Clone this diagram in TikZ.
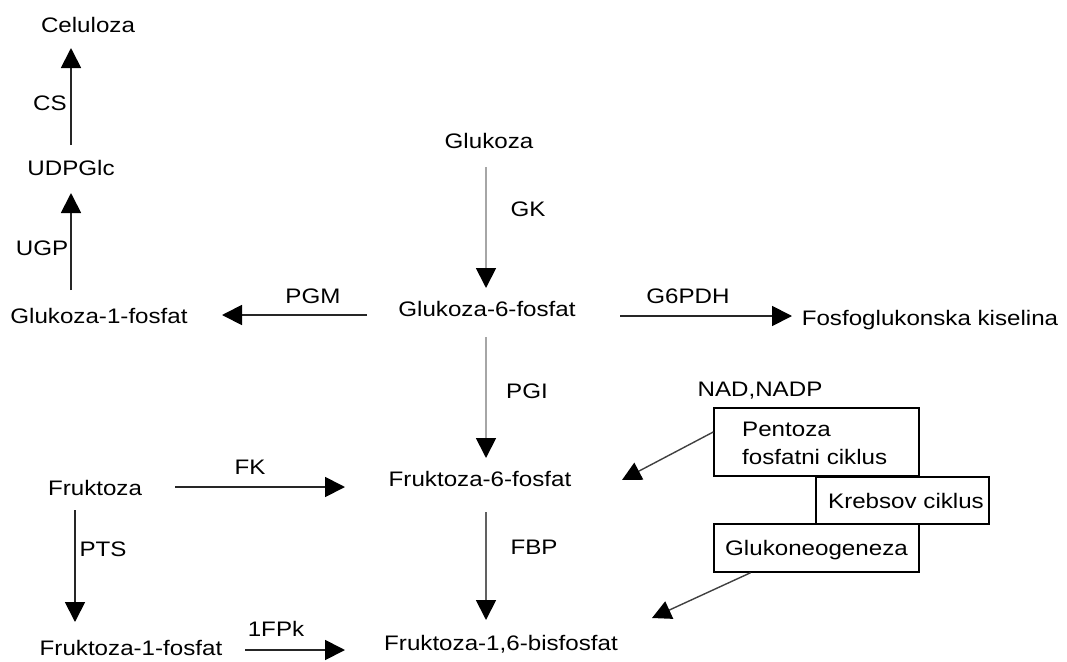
\documentclass[tikz,border=0pt]{standalone}
\usepackage{fontspec}
\setmainfont{Liberation Sans}[FakeStretch=1.15]
\usetikzlibrary{arrows.meta}
\begin{document}
\begin{tikzpicture}[x=1pt,y=-1pt,
  every node/.style={inner sep=0pt,font=\fontsize{21}{24}\selectfont,text height=15pt,text depth=4pt},
  arr/.style={line width=1.8pt,draw=black!85,-{Triangle[width=20pt,length=20pt,color=black]}},
  arrl/.style={arr,draw=black!35},
  arrm/.style={arr,draw=black!62},
  arrd/.style={line width=1.4pt,draw=black!75,-{Triangle[width=19pt,length=19pt,color=black]}},
  boxn/.style={draw=black,line width=1.5pt,minimum height=0pt}
]
\useasboundingbox (0,0) rectangle (1067,661);
% metabolites
\node (cel) at (88,27) {Celuloza};
\node (udp) at (71,170) {UDPGlc};
\node (g1p) at (99,318) {Glukoza-1-fosfat};
\node (glc) at (489,143) {Glukoza};
\node (g6p) at (487,311) {Glukoza-6-fosfat};
\node (fgk) at (930,320) {Fosfoglukonska kiselina};
\node (f6p) at (480,481) {Fruktoza-6-fosfat};
\node (fru) at (95,490) {Fruktoza};
\node (f1p) at (131,650) {Fruktoza-1-fosfat};
\node (fbp) at (501,645) {Fruktoza-1,6-bisfosfat};
\node (nad) at (760,391) {NAD,NADP};
% boxes
\node[boxn,minimum width=205pt,minimum height=68pt] (ppc) at (816.5,442) {};
\node[anchor=west] (ppct1) at (742,431) {Pentoza};
\node[anchor=west] (ppct2) at (742,459) {fosfatni ciklus};
\node[boxn,minimum width=173pt,minimum height=47pt] (kreb) at (902.5,500.5) {};
\node (krebt) at (906,503) {Krebsov ciklus};
\node[boxn,minimum width=205pt,minimum height=48pt] (gng) at (816.5,548) {};
\node (gngt) at (816.5,550) {Glukoneogeneza};
% enzyme labels
\node (lcs) at (50,105) {CS};
\node (lugp) at (42,250) {UGP};
\node (lpgm) at (313,298) {PGM};
\node (lg6) at (688,298) {G6PDH};
\node (lgk) at (528,211) {GK};
\node (lpgi) at (527,393) {PGI};
\node (lfk) at (250,469) {FK};
\node (lfbp) at (534,549) {FBP};
\node (lpts) at (103,551) {PTS};
\node (lfpk) at (276,631) {1FPk};
% arrows
\draw[arr] ([shift={(0,-25)}]udp.center) -- ([shift={(-17,21)}]cel.center);
\draw[arr] ([shift={(-28,-28)}]g1p.center) -- ([shift={(0,23)}]udp.center);
\draw[arr] ([shift={(-120,4)}]g6p.center) -- ([shift={(123,-3)}]g1p.center);
\draw[arr] ([shift={(133,5)}]g6p.center) -- ([shift={(-138,-4)}]fgk.center);
\draw[arrl] ([shift={(-3,24)}]glc.center) -- ([shift={(-1,-23)}]g6p.center);
\draw[arrl] ([shift={(-1,26)}]g6p.center) -- ([shift={(6,-23)}]f6p.center);
\draw[arrm] ([shift={(6,31)}]f6p.center) -- ([shift={(-15,-25)}]fbp.center);
\draw[arr] ([shift={(80,-3)}]fru.center) -- ([shift={(-135,6)}]f6p.center);
\draw[arr] ([shift={(-20,20)}]fru.center) -- ([shift={(-56,-28)}]f1p.center);
\draw[arr] ([shift={(114,0)}]f1p.center) -- ([shift={(-156,5)}]fbp.center);
\draw[arrd] ([shift={(0,-10)}]ppc.west) -- ([shift={(142,-1)}]f6p.center);
\draw[arrd] ([shift={(-66,0)}]gng.south) -- ([shift={(151,-27)}]fbp.center);
\end{tikzpicture}
\end{document}
